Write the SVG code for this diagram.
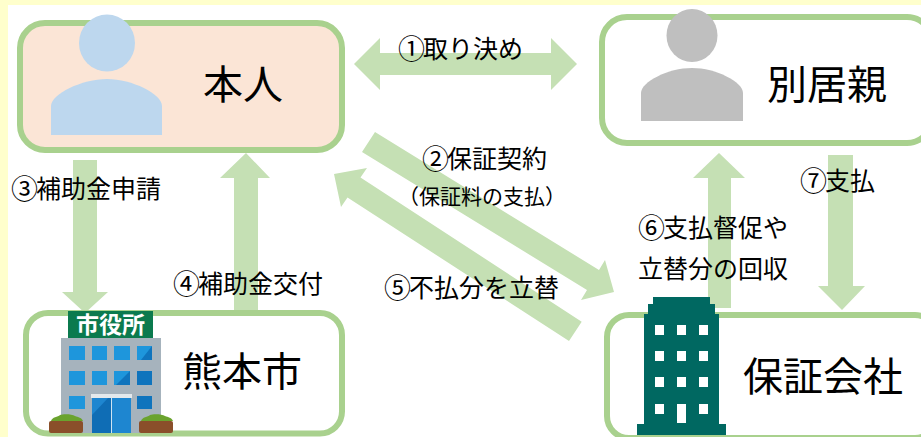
<svg xmlns="http://www.w3.org/2000/svg" width="921" height="437" viewBox="0 0 921 437">
<style>
text{font-family:"Noto Sans CJK JP","Noto Sans",sans-serif;fill:#000}
.t{font-size:40px}.l{font-size:25px}.s{font-size:21px}
.c{font-size:27px}
.box{stroke:#a9d18e;stroke-width:6;fill:#fff}
.ar{fill:#c5e0b4}
.win{fill:#1e96dc}.win2{fill:#0f74bd}.tw{fill:#fff}
.soil{fill:#8a4f2a}.bush{fill:#6aa32e}
</style>
<rect width="921" height="437" fill="#fff"/>
<path d="M0 0H921V5H8V437H0Z" fill="#ffffcc"/>
<g id="connectors">
<polygon class="ar" points="354,64 380,38 380,53 551,53 551,38 577,64 551,90 551,75 380,75 380,90"/>
<polygon class="ar" points="375,132 599,270 605,260 614,292 581,300 587,290 362,152"/>
<polygon class="ar" points="334,174 367,168 360.500,177.500 581.700,321.700 569,341 347.500,197.500 341,207"/>
<polygon class="ar" points="73,160 97,160 97,292 108,292 85,313 62,292 73,292"/>
<polygon class="ar" points="234,310 258,310 258,178 270,178 246,153 220,178 234,178"/>
<polygon class="ar" points="708,308 731,308 731,178 745,178 719,153 693,178 708,178"/>
<polygon class="ar" points="828,155 853,155 853,286 865,286 842,310 818,286 828,286"/>
</g>
<g id="node-honnin">
<rect class="box" x="20" y="23" width="322" height="127" rx="25" style="fill:#fbe5d6"/>
<ellipse cx="107" cy="43" rx="28" ry="28.500" fill="#bdd7ee"/>
<path d="M51 135V106C51 94 82 79 107 79S162 94 162 106V135Z" fill="#bdd7ee"/>
<text class="t" x="203" y="99">本人</text>
</g>
<g id="node-bekkyo">
<rect class="box" x="602" y="17" width="330" height="126" rx="25"/>
<ellipse cx="692" cy="35.500" rx="25.500" ry="26.500" fill="#bfbfbf"/>
<path d="M641 121V93C641 82 668 68 692 68S743 82 743 93V121Z" fill="#bfbfbf"/>
<text class="t" x="767" y="99">別居親</text>
</g>
<g id="node-city">
<rect class="box" x="26" y="313" width="316" height="120.500" rx="22"/>
<rect x="61" y="338" width="100" height="95" fill="#a6b3bd"/>
<rect x="68" y="311" width="85" height="27" fill="#0b7a4e"/>
<text x="110.500" y="333" font-size="23" font-weight="700" text-anchor="middle" style="fill:#fff">市役所</text>
<g class="win">
<rect x="69" y="346" width="16" height="14"/><rect x="92" y="346" width="15" height="14"/><rect x="114" y="346" width="16" height="14"/><rect x="137" y="346" width="15" height="14"/>
<rect x="69" y="371" width="16" height="14"/><rect x="92" y="371" width="15" height="14"/><rect x="114" y="371" width="16" height="14"/>
<rect x="69" y="396" width="16" height="13"/>
</g>
<g class="win2">
<rect x="137" y="371" width="15" height="14"/><rect x="137" y="396" width="15" height="13"/>
<polygon points="130,371 130,385 116,385"/><polygon points="152,346 152,360 141,360"/>
</g>
<rect x="91" y="394" width="41" height="4" fill="#e4e9ec"/>
<rect x="92" y="398" width="39" height="35" fill="#1e86d0"/>
<polygon points="92,415 108,398 111,398 111,433 92,433" fill="#0f6db5"/>
<rect x="111" y="398" width="1" height="35" fill="#cfe4f2"/>
<path d="M51 421C52 417 58 417 60 415C63 414 72 414 75 416C78 417 82 418 83 421Z" class="bush"/>
<rect class="soil" x="49" y="421" width="34" height="12" rx="2"/>
<path d="M141 421C142 417 148 417 150 415C153 414 162 414 165 416C168 417 172 418 173 421Z" class="bush"/>
<rect class="soil" x="139" y="421" width="34" height="12" rx="2"/>
<text class="t" x="182" y="386">熊本市</text>
</g>
<g id="node-guarantor">
<rect class="box" x="607" y="315" width="330" height="123" rx="22"/>
<polygon points="653,297 710,297 710,304 715,304 715,314 719,314 719,424 726,424 726,435 637,435 637,424 644,424 644,314 648,314 648,304 653,304" fill="#006861"/>
<g class="tw">
<rect x="655" y="325" width="9" height="10"/><rect x="677" y="325" width="9" height="10"/><rect x="699" y="325" width="9" height="10"/>
<rect x="655" y="351" width="9" height="10"/><rect x="677" y="351" width="9" height="10"/><rect x="699" y="351" width="9" height="10"/>
<rect x="655" y="377" width="9" height="10"/><rect x="677" y="377" width="9" height="10"/><rect x="699" y="377" width="9" height="10"/>
<rect x="655" y="404" width="9" height="10"/><rect x="677" y="404" width="9" height="19"/><rect x="699" y="404" width="9" height="10"/>
</g>
<text class="t" x="743" y="391">保証会社</text>
</g>
<g id="labels">
<text class="l"><tspan class="c" x="398" y="59">①</tspan><tspan x="423" y="58">取り決め</tspan></text>
<text class="l"><tspan class="c" x="422" y="169">②</tspan><tspan x="447" y="168">保証契約</tspan></text>
<text class="s" x="398" y="204">（保証料の支払）</text>
<text class="l"><tspan class="c" x="11" y="199">③</tspan><tspan x="36" y="198">補助金申請</tspan></text>
<text class="l"><tspan class="c" x="173" y="294">④</tspan><tspan x="198" y="293">補助金交付</tspan></text>
<text class="l"><tspan class="c" x="384" y="298">⑤</tspan><tspan x="409" y="297">不払分を立替</tspan></text>
<text class="l"><tspan class="c" x="638" y="238">⑥</tspan><tspan x="663" y="237">支払督促や</tspan></text>
<text class="l" x="638" y="278">立替分の回収</text>
<text class="l"><tspan class="c" x="800" y="191">⑦</tspan><tspan x="825" y="190">支払</tspan></text>
</g>
</svg>
